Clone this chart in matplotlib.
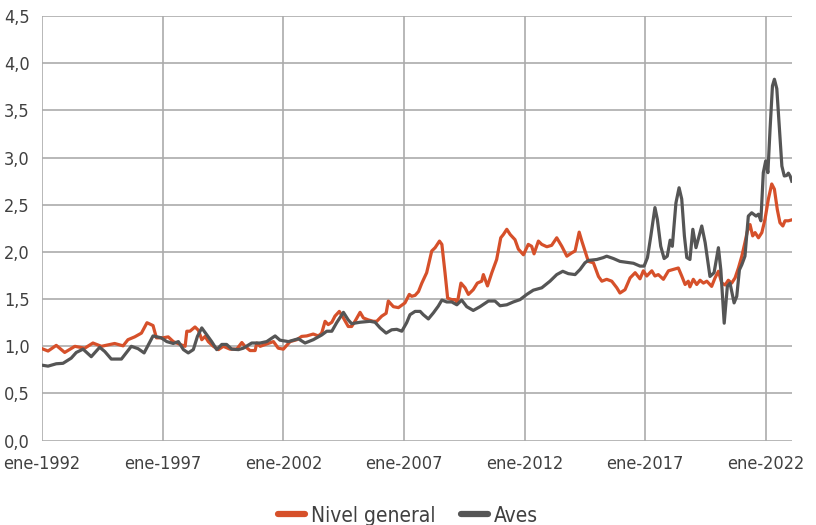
import matplotlib.pyplot as plt
from matplotlib import font_manager

# Índices, fechas en años decimales
nivel_fecha = [
    1992.00, 1992.25, 1992.59, 1992.94, 1993.36, 1993.77, 1994.11, 1994.46,
    1995.01, 1995.36, 1995.56, 1995.84, 1996.12, 1996.35, 1996.60, 1996.74,
    1997.01, 1997.23, 1997.44, 1997.72, 1997.93, 1998.00, 1998.13, 1998.34,
    1998.48, 1998.62, 1998.76, 1998.89, 1999.10, 1999.31, 1999.51, 1999.79,
    2000.07, 2000.28, 2000.41, 2000.62, 2000.83, 2000.90, 2001.04, 2001.31,
    2001.59, 2001.79, 2002.00, 2002.21, 2002.28, 2002.56, 2002.76, 2002.97,
    2003.24, 2003.45, 2003.59, 2003.73, 2003.86, 2004.01, 2004.14, 2004.32,
    2004.49, 2004.69, 2004.83, 2004.97, 2005.18, 2005.32, 2005.52, 2005.73,
    2005.87, 2006.08, 2006.26, 2006.35, 2006.56, 2006.77, 2007.04, 2007.22,
    2007.32, 2007.46, 2007.60, 2007.74, 2007.94, 2008.15, 2008.29, 2008.47,
    2008.57, 2008.70, 2008.81, 2008.98, 2009.12, 2009.21, 2009.36, 2009.53,
    2009.67, 2009.87, 2010.04, 2010.22, 2010.29, 2010.46, 2010.64, 2010.84,
    2011.01, 2011.12, 2011.26, 2011.40, 2011.60, 2011.74, 2011.95, 2012.15,
    2012.29, 2012.39, 2012.57, 2012.71, 2012.92, 2013.12, 2013.33, 2013.54,
    2013.75, 2013.95, 2014.09, 2014.26, 2014.37, 2014.50, 2014.64, 2014.85,
    2015.06, 2015.20, 2015.40, 2015.61, 2015.82, 2015.95, 2016.16, 2016.37,
    2016.58, 2016.78, 2016.92, 2017.06, 2017.27, 2017.40, 2017.54, 2017.75,
    2017.96, 2018.16, 2018.37, 2018.51, 2018.65, 2018.78, 2018.85, 2018.99,
    2019.13, 2019.27, 2019.41, 2019.55, 2019.75, 2019.89, 2020.03, 2020.17,
    2020.31, 2020.44, 2020.58, 2020.72, 2020.86, 2021.00, 2021.13, 2021.23,
    2021.34, 2021.45, 2021.55, 2021.69, 2021.83, 2021.96, 2022.10, 2022.24,
    2022.35, 2022.47, 2022.58, 2022.70, 2022.79, 2022.93, 2023.07,
]
nivel_general = [
    0.975, 0.95, 1.01, 0.935, 1.00, 0.98, 1.035, 1.00,
    1.03, 1.005, 1.07, 1.10, 1.14, 1.25, 1.22, 1.09,
    1.09, 1.10, 1.05, 1.02, 1.00, 1.16, 1.16, 1.205,
    1.17, 1.07, 1.105, 1.05, 1.00, 0.965, 1.00, 0.97,
    0.97, 1.04, 1.00, 0.955, 0.955, 1.035, 1.00, 1.025,
    1.05, 0.98, 0.97, 1.03, 1.05, 1.07, 1.105, 1.11,
    1.13, 1.11, 1.14, 1.265, 1.23, 1.255, 1.32, 1.37,
    1.30, 1.21, 1.21, 1.265, 1.36, 1.30, 1.28, 1.265,
    1.265, 1.32, 1.35, 1.48, 1.42, 1.41, 1.46, 1.55,
    1.53, 1.54, 1.58, 1.67, 1.78, 2.01, 2.045, 2.115,
    2.08, 1.78, 1.51, 1.495, 1.495, 1.46, 1.67, 1.62,
    1.55, 1.60, 1.67, 1.69, 1.76, 1.64, 1.78, 1.92,
    2.15, 2.185, 2.24, 2.185, 2.13, 2.03, 1.97, 2.08,
    2.06, 1.98, 2.115, 2.08, 2.055, 2.07, 2.15, 2.06,
    1.955, 1.99, 2.01, 2.21, 2.115, 2.01, 1.90, 1.885,
    1.74, 1.69, 1.71, 1.69, 1.62, 1.565, 1.60, 1.725,
    1.78, 1.715, 1.80, 1.745, 1.80, 1.745, 1.76, 1.71,
    1.80, 1.815, 1.83, 1.745, 1.655, 1.69, 1.63, 1.71,
    1.655, 1.70, 1.67, 1.69, 1.635, 1.725, 1.795, 1.67,
    1.65, 1.70, 1.67, 1.725, 1.83, 1.955, 2.10, 2.22,
    2.29, 2.17, 2.205, 2.15, 2.205, 2.345, 2.56, 2.72,
    2.665, 2.45, 2.31, 2.275, 2.33, 2.33, 2.34,
]

aves_fecha = [
    1992.00, 1992.25, 1992.59, 1992.87, 1993.21, 1993.42, 1993.70, 1994.04,
    1994.39, 1994.60, 1994.87, 1995.29, 1995.70, 1995.98, 1996.23, 1996.60,
    1996.94, 1997.17, 1997.44, 1997.65, 1997.86, 1998.06, 1998.27, 1998.44,
    1998.62, 1998.83, 1999.03, 1999.24, 1999.45, 1999.65, 1999.86, 2000.14,
    2000.34, 2000.69, 2001.04, 2001.31, 2001.66, 2001.86, 2002.21, 2002.49,
    2002.62, 2002.90, 2003.24, 2003.59, 2003.80, 2004.01, 2004.21, 2004.49,
    2004.69, 2004.83, 2005.18, 2005.59, 2005.80, 2006.01, 2006.26, 2006.49,
    2006.70, 2006.91, 2007.11, 2007.25, 2007.46, 2007.67, 2007.80, 2008.01,
    2008.22, 2008.42, 2008.57, 2008.77, 2008.98, 2009.19, 2009.39, 2009.60,
    2009.87, 2010.15, 2010.50, 2010.77, 2010.98, 2011.26, 2011.53, 2011.81,
    2012.09, 2012.36, 2012.71, 2013.05, 2013.33, 2013.58, 2013.81, 2014.09,
    2014.30, 2014.50, 2014.64, 2014.99, 2015.26, 2015.40, 2015.68, 2015.95,
    2016.23, 2016.51, 2016.78, 2016.95, 2017.09, 2017.23, 2017.40, 2017.50,
    2017.64, 2017.78, 2017.91, 2018.03, 2018.12, 2018.27, 2018.40, 2018.51,
    2018.62, 2018.72, 2018.85, 2018.97, 2019.10, 2019.34, 2019.48, 2019.68,
    2019.85, 2020.03, 2020.13, 2020.27, 2020.40, 2020.51, 2020.68, 2020.79,
    2020.90, 2021.00, 2021.13, 2021.27, 2021.41, 2021.59, 2021.69, 2021.79,
    2021.89, 2021.99, 2022.08, 2022.17, 2022.27, 2022.35, 2022.45, 2022.56,
    2022.66, 2022.76, 2022.86, 2022.93, 2023.00, 2023.07,
]
aves = [
    0.80, 0.79, 0.815, 0.82, 0.875, 0.935, 0.97, 0.89,
    0.99, 0.945, 0.865, 0.865, 1.00, 0.975, 0.93, 1.11,
    1.09, 1.05, 1.03, 1.05, 0.965, 0.93, 0.965, 1.105,
    1.195, 1.12, 1.05, 0.965, 1.02, 1.02, 0.97, 0.965,
    0.98, 1.035, 1.035, 1.05, 1.11, 1.065, 1.05, 1.07,
    1.08, 1.035, 1.07, 1.12, 1.16, 1.16, 1.25, 1.36,
    1.28, 1.24, 1.255, 1.265, 1.255, 1.195, 1.14, 1.175,
    1.18, 1.16, 1.25, 1.335, 1.37, 1.37, 1.335, 1.29,
    1.355, 1.425, 1.49, 1.47, 1.47, 1.44, 1.49, 1.42,
    1.38, 1.42, 1.48, 1.48, 1.43, 1.44, 1.47, 1.495,
    1.55, 1.595, 1.62, 1.69, 1.76, 1.795, 1.77, 1.76,
    1.815, 1.885, 1.91, 1.92, 1.94, 1.955, 1.93, 1.90,
    1.89, 1.88, 1.85, 1.85, 1.94, 2.17, 2.47, 2.345,
    2.06, 1.93, 1.955, 2.125, 2.06, 2.52, 2.68, 2.56,
    2.17, 1.94, 1.92, 2.24, 2.045, 2.275, 2.10, 1.74,
    1.78, 2.045, 1.81, 1.245, 1.635, 1.67, 1.46, 1.53,
    1.81, 1.865, 1.955, 2.38, 2.415, 2.38, 2.40, 2.33,
    2.84, 2.965, 2.84, 3.30, 3.76, 3.83, 3.73, 3.30,
    2.91, 2.805, 2.81, 2.835, 2.805, 2.75,
]

x_ticks = [1992, 1997, 2002, 2007, 2012, 2017, 2022]
x_labels = ["ene-1992", "ene-1997", "ene-2002", "ene-2007",
            "ene-2012", "ene-2017", "ene-2022"]
y_ticks = [0.0, 0.5, 1.0, 1.5, 2.0, 2.5, 3.0, 3.5, 4.0, 4.5]

# pick a condensed face if there is one, else a narrow-ish sans
fonts = font_manager.fontManager.ttflist
cond = [f for f in fonts
        if ("Condensed" in f.name or "Narrow" in f.name
            or str(f.stretch) in ("condensed", "semi-condensed", "extra-condensed", "75", "62", "87"))
        and f.style == "normal"]
stretch = "normal"
if cond:
    family = cond[0].name
    stretch = cond[0].stretch
else:
    family = "Liberation Sans"
plt.rcParams["font.family"] = [family, "DejaVu Sans"]
plt.rcParams["font.stretch"] = stretch
is_cond = bool(cond)

orange = "#D6502A"
grey = "#555555"
text_col = "#404040"
grid_col = "#ABABAB"

fig = plt.figure(figsize=(8.16, 5.25), dpi=100)
ax = fig.add_axes([0.0515, 0.1606, 0.9191, 0.8089])

ax.plot(nivel_fecha, nivel_general, color=orange, lw=2.3, label="Nivel general",
        solid_joinstyle="round", zorder=3)
ax.plot(aves_fecha, aves, color=grey, lw=2.3, label="Aves",
        solid_joinstyle="round", zorder=3)

ax.set_xlim(1992, 2023.08)
ax.set_ylim(0, 4.5)
ax.set_xticks(x_ticks)
ax.set_xticklabels(x_labels)
ax.set_yticks(y_ticks)
ax.set_yticklabels([f"{v:.1f}".replace(".", ",") for v in y_ticks])

fs = 13 if is_cond else 11.5
ax.grid(True, color=grid_col, lw=1.2, zorder=0)
for s in ax.spines.values():
    s.set_visible(False)
ax.tick_params(length=0, labelsize=fs, colors=text_col)
ax.tick_params(axis="y", pad=9)
ax.tick_params(axis="x", pad=10)

fig.legend(loc="lower center", bbox_to_anchor=(0.5, -0.037), ncol=2,
           frameon=False, fontsize=fs + 2, handlelength=1.3, handletextpad=0.3,
           columnspacing=1.2, labelcolor=text_col)
for line in fig.legends[0].get_lines():
    line.set_linewidth(4.5)
    line.set_solid_capstyle("round")

fig.savefig("out.png", dpi=100)
